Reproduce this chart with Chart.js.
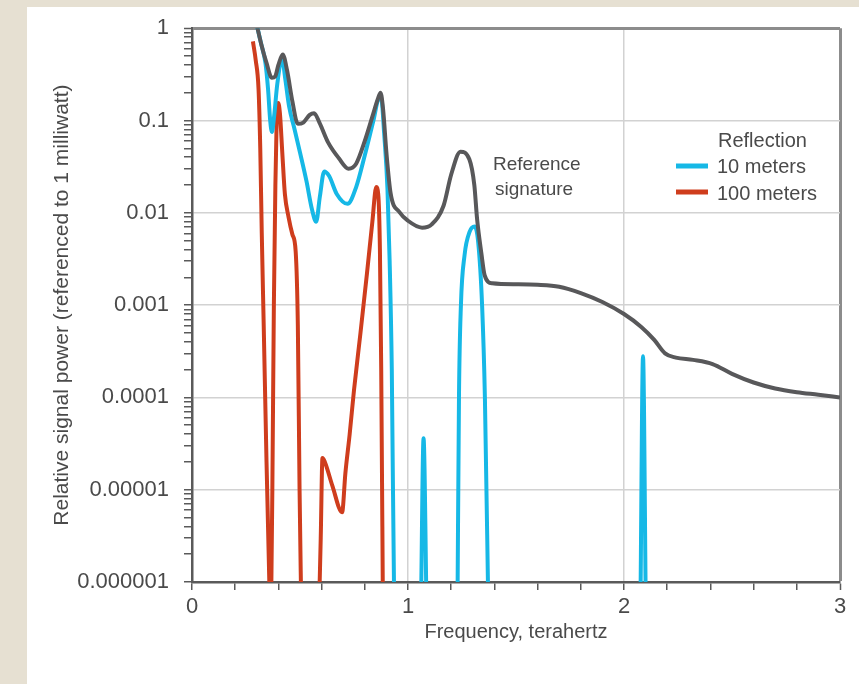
<!DOCTYPE html>
<html>
<head>
<meta charset="utf-8">
<script src="https://cdn.jsdelivr.net/npm/chart.js@4.4.1/dist/chart.umd.min.js"></script>
<style>
  html, body { margin: 0; padding: 0; }
  body { width: 859px; height: 684px; background: #e6e0d2; position: relative; overflow: hidden; }
  #panel { position: absolute; left: 27px; top: 7px; right: 0; bottom: 0; background: #fff; }
  #wrap { position: absolute; left: 0; top: 0; width: 859px; height: 684px; }
</style>
</head>
<body>
<div id="panel"></div>
<div id="wrap"><canvas id="chart" width="859" height="684"></canvas></div>
<script>
// Reference signature (grey)
const refX = [0.30, 0.32, 0.345, 0.37, 0.385, 0.40, 0.42, 0.44, 0.465, 0.49, 0.515, 0.545, 0.565, 0.59, 0.63, 0.68, 0.725, 0.76, 0.80, 0.835, 0.86, 0.873, 0.885, 0.90, 0.92, 0.96, 1.00, 1.065, 1.11, 1.165, 1.20, 1.243, 1.284, 1.307, 1.32, 1.34, 1.355, 1.39, 1.50, 1.60, 1.70, 1.80, 1.90, 2.00, 2.08, 2.14, 2.19, 2.24, 2.32, 2.41, 2.50, 2.60, 2.70, 2.80, 2.90, 3.00];
const refY = [1.08, 0.68, 0.42, 0.29, 0.30, 0.40, 0.52, 0.35, 0.16, 0.092, 0.095, 0.115, 0.12, 0.095, 0.058, 0.039, 0.030, 0.034, 0.060, 0.11, 0.17, 0.20, 0.13, 0.045, 0.016, 0.0102, 0.0082, 0.0069, 0.0075, 0.012, 0.026, 0.046, 0.038, 0.020, 0.0085, 0.0036, 0.0021, 0.00172, 0.00168, 0.00166, 0.00158, 0.00135, 0.00108, 0.0008, 0.00058, 0.00042, 0.00030, 0.00027, 0.000255, 0.00023, 0.00018, 0.000145, 0.000125, 0.000114, 0.000107, 0.0001];

// Reflection, 10 meters (cyan); null = below the axis
const tenX = [0.30, 0.32, 0.34, 0.352, 0.362, 0.37, 0.38, 0.395, 0.417, 0.432, 0.45, 0.475, 0.50, 0.53, 0.555, 0.575, 0.592, 0.612, 0.635, 0.67, 0.72, 0.76, 0.80, 0.84, 0.865, 0.876, 0.89, 0.905, 0.915, 0.925, 0.935, 0.942,
  null,
  1.060, 1.072, 1.086,
  null,
  1.229, 1.236, 1.245, 1.262, 1.285, 1.308, 1.325, 1.343, 1.356, 1.372,
  null,
  2.076, 2.088, 2.101];
const tenY = [1.08, 0.68, 0.42, 0.22, 0.10, 0.075, 0.11, 0.25, 0.47, 0.28, 0.14, 0.08, 0.045, 0.022, 0.011, 0.008, 0.015, 0.028, 0.025, 0.016, 0.0125, 0.019, 0.042, 0.10, 0.17, 0.17, 0.07, 0.018, 0.003, 0.0002, 0.000001, 0.0000005,
  null,
  0.0000005, 0.000036, 0.0000005,
  null,
  0.0000005, 0.0001, 0.001, 0.0035, 0.0062, 0.0071, 0.0048, 0.001, 0.0001, 0.0000005,
  null,
  0.0000005, 0.00028, 0.0000005];

// Reflection, 100 meters (red)
const hundredX = [0.282, 0.295, 0.308, 0.316, 0.323, 0.332, 0.345, 0.358, 0.362,
  null,
  0.366, 0.372, 0.379, 0.386, 0.392, 0.399, 0.407, 0.418, 0.43, 0.447, 0.465, 0.48, 0.49, 0.498, 0.506,
  null,
  0.588, 0.596, 0.604, 0.615, 0.65, 0.695, 0.71, 0.73, 0.75, 0.78, 0.81, 0.835, 0.853, 0.862, 0.87, 0.876, 0.884];
const hundredY = [0.72, 0.45, 0.22, 0.05, 0.006, 0.0006, 0.00002, 0.000001, 0.0000005,
  null,
  0.0000005, 0.00001, 0.001, 0.02, 0.10, 0.155, 0.12, 0.045, 0.016, 0.009, 0.0058, 0.0038, 0.0006, 0.00001, 0.0000005,
  null,
  0.0000005, 0.000003, 0.000022, 0.00002, 0.000011, 0.0000057, 0.000015, 0.00004, 0.00012, 0.0005, 0.0022, 0.008, 0.019, 0.016, 0.004, 0.0002, 0.0000005];

const xTicks = [0, 0.2, 0.4, 0.6, 0.8, 1, 1.2, 1.4, 1.6, 1.8, 2, 2.2, 2.4, 2.6, 2.8, 3];
const xLabelValues = [0, 1, 2, 3];
const xLabels = ['0', '1', '2', '3'];
const yMajor = [0.000001, 0.00001, 0.0001, 0.001, 0.01, 0.1, 1];
const yLabels = ['0.000001', '0.00001', '0.0001', '0.001', '0.01', '0.1', '1'];
const yMinorSteps = [2, 3, 4, 5, 6, 7, 8, 9];

const seriesNames = ['Reference signature', '10 meters', '100 meters'];
const legendTitle = 'Reflection';

const FONT = '"Liberation Sans", Arial, sans-serif';
const TEXT = '#4a4a4a';

function toPoints(xs, ys) {
  return xs.map((x, i) => (x === null ? { x: NaN, y: null } : { x: x, y: ys[i] }));
}

function isMajorY(v) {
  const l = Math.log10(v);
  return Math.abs(l - Math.round(l)) < 1e-6;
}

// text annotation + legend
const labelsPlugin = {
  id: 'labels',
  afterDatasetsDraw(chart) {
    const ctx = chart.ctx;
    const ds = chart.data.datasets;
    ctx.save();
    ctx.fillStyle = TEXT;
    ctx.textBaseline = 'alphabetic';
    ctx.textAlign = 'left';
    ctx.font = '19px ' + FONT;
    ctx.fillText('Reference', 493, 170);
    ctx.fillText('signature', 495, 195);

    ctx.font = '20px ' + FONT;
    ctx.fillText(legendTitle, 718, 147);
    ctx.fillText(ds[1].label, 717, 173);
    ctx.fillText(ds[2].label, 717, 200);
    ctx.lineWidth = 5;
    ctx.strokeStyle = ds[1].borderColor;
    ctx.beginPath(); ctx.moveTo(676, 166); ctx.lineTo(708, 166); ctx.stroke();
    ctx.strokeStyle = ds[2].borderColor;
    ctx.beginPath(); ctx.moveTo(676, 192); ctx.lineTo(708, 192); ctx.stroke();
    ctx.restore();
  }
};

const lineStyle = {
  borderWidth: 4,
  pointRadius: 0,
  fill: false,
  spanGaps: false,
  cubicInterpolationMode: 'monotone',
  clip: 0
};

new Chart(document.getElementById('chart'), {
  type: 'line',
  data: {
    datasets: [
      Object.assign({ label: seriesNames[0], data: toPoints(refX, refY), borderColor: '#58585a' }, lineStyle),
      Object.assign({ label: seriesNames[1], data: toPoints(tenX, tenY), borderColor: '#16b8e6' }, lineStyle),
      Object.assign({ label: seriesNames[2], data: toPoints(hundredX, hundredY), borderColor: '#cf3d1d' }, lineStyle)
    ]
  },
  options: {
    responsive: false,
    devicePixelRatio: 1,
    animation: false,
    layout: { padding: { left: 46, top: 25, right: 19, bottom: 36 } },
    plugins: {
      legend: { display: false },
      tooltip: { enabled: false }
    },
    scales: {
      x: {
        type: 'linear',
        min: 0,
        max: 3,
        afterBuildTicks: (scale) => { scale.ticks = xTicks.map(v => ({ value: v })); },
        afterFit: (scale) => { scale.height = 66; },
        ticks: {
          autoSkip: false,
          maxRotation: 0,
          padding: 4,
          color: TEXT,
          font: { family: FONT, size: 22 },
          callback: (v) => {
            const i = xLabelValues.findIndex(t => Math.abs(t - v) < 1e-6);
            return i >= 0 ? xLabels[i] : '';
          }
        },
        grid: {
          color: (c) => {
            const v = c.tick ? c.tick.value : 0;
            if (Math.abs(v - 3) < 1e-6) return '#8c8c8c';
            return Math.abs(v - Math.round(v)) < 1e-6 ? '#d2d2d2' : 'rgba(0,0,0,0)';
          },
          lineWidth: (c) => (c.tick && Math.abs(c.tick.value - 3) < 1e-6 ? 3 : 1.5),
          tickColor: '#5a5a5a',
          tickWidth: 1.5,
          tickLength: 8
        },
        border: { color: '#5a5a5a', width: 2.5 },
        title: {
          display: true,
          text: 'Frequency, terahertz',
          color: TEXT,
          font: { family: FONT, size: 20 },
          padding: { top: 6, bottom: 4 }
        }
      },
      y: {
        type: 'logarithmic',
        min: 0.000001,
        max: 1,
        afterBuildTicks: (scale) => {
          const vals = [];
          yMajor.forEach((m, i) => {
            vals.push(m);
            if (i < yMajor.length - 1) yMinorSteps.forEach(k => vals.push(k * m));
          });
          scale.ticks = vals.map(v => ({ value: v }));
        },
        afterFit: (scale) => { scale.width = 146; },
        ticks: {
          autoSkip: false,
          padding: 15,
          color: TEXT,
          font: { family: FONT, size: 22 },
          callback: (v) => {
            const i = yMajor.findIndex(t => Math.abs(Math.log10(t) - Math.log10(v)) < 1e-6);
            return i >= 0 ? yLabels[i] : '';
          }
        },
        grid: {
          color: (c) => {
            const v = c.tick ? c.tick.value : 1;
            if (Math.abs(v - 1) < 1e-9) return '#8c8c8c';
            return isMajorY(v) ? '#d2d2d2' : 'rgba(0,0,0,0)';
          },
          lineWidth: (c) => (c.tick && Math.abs(c.tick.value - 1) < 1e-9 ? 3 : 1.5),
          tickColor: '#5a5a5a',
          tickWidth: 1.5,
          tickLength: 8
        },
        border: { color: '#5a5a5a', width: 2.5 },
        title: {
          display: true,
          text: 'Relative signal power (referenced to 1 milliwatt)',
          color: TEXT,
          font: { family: FONT, size: 21 },
          padding: { top: 4, bottom: 4 }
        }
      }
    }
  },
  plugins: [labelsPlugin]
});
</script>
</body>
</html>
